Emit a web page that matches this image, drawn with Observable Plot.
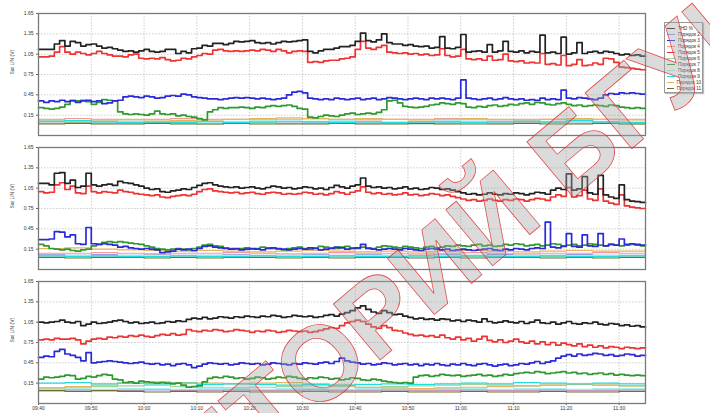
<!DOCTYPE html>
<html><head><meta charset="utf-8">
<script src="https://cdn.jsdelivr.net/npm/d3@7"></script>
<script src="https://cdn.jsdelivr.net/npm/@observablehq/plot@0.6"></script>
<style>
body{margin:0;background:#fff;font-family:"Liberation Sans",Arial,sans-serif;}
#wrap{position:relative;width:710px;height:413px;overflow:hidden;background:#fff;}
#legend{position:absolute;left:664px;top:22px;width:39px;height:71px;border:1px solid #999;background:#fff;box-shadow:1px 1px 1px #bbb;font-size:4.6px;color:#333;box-sizing:border-box;padding:2px 1px 0 2px;}
.row{display:flex;align-items:center;height:6.1px;white-space:nowrap;}
.sw{width:8px;margin-right:3px;}
#wm{position:absolute;left:0;top:0;pointer-events:none;}
</style></head><body><div id="wrap"></div>
<script>
// ---- data ----
const panels = ["A", "B", "C"];
const seriesNames = ["THD %","Порядок 2","Порядок 3","Порядок 4","Порядок 5","Порядок 6","Порядок 7","Порядок 8","Порядок 9","Порядок 10","Порядок 11"];
const seriesColors = ["#222222","#9a9ae8","#2a2ad8","#f29a9a","#ee3333","#9fd49f","#2e9a2e","#aaeeee","#22dddd","#e6b45a","#707030"];
const yTicks = [0.15, 0.45, 0.75, 1.05, 1.35, 1.65];
const xTickLabels = ["09:40","09:50","10:00","10:10","10:20","10:30","10:40","10:50","11:00","11:10","11:20","11:30"];
const yLabel = "Sat LIN (V)";

// panel A, 1-minute samples from 09:40
const p1_thd = [1.12,1.12,1.12,1.20,1.25,1.17,1.24,1.22,1.17,1.19,1.20,1.17,1.14,1.15,1.13,1.11,1.09,1.10,1.08,1.10,1.12,1.09,1.08,1.09,1.12,1.12,1.06,1.09,1.07,1.13,1.14,1.18,1.17,1.21,1.21,1.19,1.21,1.24,1.23,1.24,1.25,1.22,1.21,1.22,1.20,1.22,1.24,1.23,1.24,1.25,1.26,1.09,1.07,1.10,1.12,1.12,1.14,1.16,1.16,1.18,1.24,1.36,1.25,1.23,1.26,1.35,1.22,1.20,1.20,1.18,1.19,1.17,1.16,1.17,1.14,1.15,1.31,1.14,1.13,1.15,1.34,1.08,1.09,1.10,1.08,1.19,1.08,1.10,1.24,1.09,1.08,1.10,1.07,1.09,1.08,1.33,1.07,1.08,1.06,1.30,1.05,1.07,1.22,1.06,1.08,1.09,1.07,1.09,1.08,1.06,1.04,1.05,1.03,1.04,1.02,1.02];
const p1_h5 = [1.01,1.01,1.02,1.08,1.16,1.08,1.05,1.08,1.06,1.04,1.06,1.09,1.06,1.04,1.02,1.02,1.01,1.04,1.05,0.99,0.98,0.99,0.98,1.00,0.97,0.95,0.96,0.99,0.98,1.01,1.03,1.06,1.05,1.11,1.12,1.10,1.09,1.10,1.09,1.10,1.11,1.10,1.12,1.11,1.09,1.12,1.10,1.07,1.09,1.10,1.09,0.93,0.94,0.93,0.95,0.96,0.96,0.98,0.99,1.01,1.12,1.24,1.14,1.12,1.15,1.18,1.08,1.07,1.06,1.07,1.05,1.06,1.04,1.05,1.03,1.04,1.13,1.03,1.01,1.02,1.12,0.98,0.97,0.98,0.96,1.02,0.96,0.97,1.05,0.95,0.94,0.95,0.92,0.93,0.92,1.06,0.90,0.91,0.89,1.03,0.88,0.90,0.97,0.88,0.89,0.92,0.90,0.99,0.98,0.93,0.86,0.85,0.84,0.83,0.82,0.82];
const p1_h3 = [0.36,0.34,0.36,0.35,0.37,0.35,0.36,0.34,0.36,0.37,0.35,0.36,0.32,0.33,0.36,0.37,0.42,0.43,0.42,0.41,0.43,0.42,0.40,0.41,0.43,0.44,0.43,0.46,0.45,0.42,0.41,0.40,0.39,0.39,0.38,0.39,0.40,0.41,0.40,0.41,0.40,0.39,0.40,0.39,0.38,0.39,0.40,0.45,0.49,0.50,0.48,0.40,0.39,0.38,0.39,0.38,0.40,0.39,0.38,0.39,0.40,0.38,0.39,0.40,0.38,0.39,0.41,0.40,0.39,0.38,0.39,0.40,0.39,0.38,0.40,0.39,0.40,0.39,0.38,0.40,0.67,0.40,0.39,0.38,0.39,0.40,0.38,0.39,0.41,0.39,0.38,0.39,0.37,0.38,0.37,0.40,0.38,0.39,0.38,0.52,0.40,0.39,0.41,0.40,0.39,0.38,0.40,0.45,0.47,0.46,0.48,0.47,0.48,0.47,0.46,0.46];
const p1_h7 = [0.26,0.25,0.24,0.25,0.27,0.31,0.37,0.36,0.37,0.35,0.31,0.34,0.38,0.37,0.36,0.20,0.17,0.16,0.17,0.16,0.15,0.17,0.21,0.17,0.16,0.17,0.14,0.15,0.13,0.12,0.10,0.08,0.20,0.23,0.26,0.25,0.26,0.26,0.27,0.26,0.25,0.27,0.26,0.28,0.29,0.28,0.29,0.30,0.28,0.25,0.24,0.12,0.11,0.13,0.15,0.14,0.13,0.15,0.17,0.18,0.16,0.17,0.18,0.17,0.19,0.23,0.36,0.37,0.33,0.28,0.27,0.26,0.27,0.28,0.30,0.31,0.33,0.32,0.31,0.33,0.32,0.27,0.26,0.28,0.27,0.29,0.30,0.28,0.29,0.31,0.30,0.32,0.33,0.31,0.34,0.33,0.31,0.30,0.32,0.33,0.31,0.29,0.30,0.28,0.29,0.30,0.29,0.28,0.30,0.29,0.27,0.26,0.25,0.26,0.25,0.25];
// panel A, 5-minute samples
const p1_h2  = [0.05,0.06,0.05,0.05,0.04,0.05,0.06,0.05,0.04,0.05,0.05,0.06,0.05,0.04,0.05,0.05,0.06,0.05,0.05,0.04,0.05,0.05,0.04,0.05];
const p1_h4  = [0.09,0.10,0.09,0.08,0.09,0.10,0.09,0.09,0.08,0.09,0.10,0.09,0.08,0.09,0.09,0.10,0.09,0.08,0.09,0.09,0.08,0.09,0.09,0.08];
const p1_h6  = [0.03,0.04,0.03,0.03,0.04,0.03,0.02,0.03,0.04,0.03,0.03,0.04,0.03,0.03,0.02,0.03,0.04,0.03,0.03,0.04,0.03,0.03,0.02,0.03];
const p1_h8  = [0.07,0.06,0.07,0.06,0.06,0.07,0.06,0.06,0.07,0.06,0.06,0.07,0.06,0.05,0.06,0.07,0.06,0.06,0.07,0.06,0.05,0.06,0.06,0.06];
const p1_h9  = [0.06,0.07,0.05,0.04,0.05,0.04,0.05,0.04,0.05,0.06,0.05,0.04,0.05,0.04,0.05,0.05,0.04,0.05,0.06,0.05,0.07,0.05,0.04,0.05];
const p1_h10 = [0.08,0.07,0.08,0.09,0.08,0.07,0.08,0.09,0.10,0.11,0.10,0.09,0.10,0.09,0.08,0.09,0.10,0.09,0.08,0.09,0.10,0.09,0.08,0.09];
const p1_h11 = [0.02,0.03,0.02,0.02,0.03,0.02,0.02,0.03,0.02,0.02,0.02,0.03,0.02,0.02,0.03,0.02,0.02,0.02,0.03,0.02,0.02,0.03,0.02,0.02];

// panel B
const p2_thd = [1.12,1.12,1.10,1.27,1.28,1.12,1.17,1.06,1.08,1.27,1.10,1.08,1.10,1.11,1.09,1.15,1.13,1.12,1.10,1.08,1.05,1.03,1.04,1.00,0.99,1.01,1.02,1.04,1.03,1.06,1.09,1.12,1.13,1.10,1.08,1.07,1.06,1.07,1.05,1.06,1.07,1.05,1.04,1.06,1.08,1.07,1.05,1.06,1.04,1.05,1.07,1.06,1.04,1.05,1.03,1.06,1.09,1.07,1.05,1.08,1.10,1.20,1.08,1.06,1.07,1.05,1.06,1.04,1.05,1.07,1.04,1.05,1.03,1.04,1.06,1.05,1.03,1.04,1.02,1.00,0.98,0.96,0.97,0.95,0.96,0.98,0.96,0.95,0.97,0.96,0.98,0.97,0.95,0.97,0.99,0.98,0.96,1.02,1.05,1.03,1.26,1.02,1.04,1.22,0.98,0.96,1.24,0.95,0.92,0.90,1.10,0.88,0.86,0.85,0.84,0.84];
const p2_h5 = [1.00,0.98,0.99,1.10,1.13,1.03,1.08,0.98,0.97,1.08,1.00,0.98,1.00,0.99,0.98,1.02,1.00,0.99,0.97,0.96,0.95,0.94,0.95,0.92,0.91,0.93,0.94,0.95,0.94,0.96,1.00,1.03,1.04,1.01,1.00,0.99,0.98,0.99,0.97,0.98,0.99,0.97,0.96,0.98,0.99,0.98,0.96,0.97,0.96,0.97,0.99,0.98,0.96,0.97,0.95,0.97,1.00,0.98,0.96,0.99,1.01,1.07,0.99,0.97,0.98,0.96,0.97,0.95,0.96,0.98,0.95,0.96,0.94,0.95,0.97,0.96,0.94,0.95,0.93,0.91,0.89,0.87,0.88,0.86,0.87,0.89,0.87,0.86,0.88,0.87,0.89,0.88,0.86,0.88,0.90,0.89,0.87,0.92,0.95,0.93,1.06,0.92,0.94,1.02,0.89,0.87,1.04,0.86,0.83,0.81,0.95,0.79,0.77,0.76,0.75,0.75];
const p2_h3 = [0.29,0.29,0.30,0.41,0.40,0.33,0.36,0.23,0.22,0.47,0.23,0.22,0.23,0.22,0.21,0.18,0.19,0.17,0.16,0.15,0.16,0.15,0.14,0.10,0.11,0.12,0.15,0.14,0.15,0.13,0.16,0.19,0.20,0.18,0.17,0.16,0.15,0.16,0.14,0.15,0.16,0.15,0.14,0.16,0.17,0.16,0.15,0.14,0.15,0.16,0.15,0.17,0.16,0.14,0.15,0.16,0.18,0.17,0.15,0.16,0.17,0.22,0.16,0.15,0.14,0.15,0.16,0.15,0.14,0.16,0.15,0.14,0.13,0.15,0.16,0.15,0.14,0.15,0.13,0.14,0.15,0.14,0.13,0.14,0.15,0.16,0.14,0.13,0.15,0.14,0.16,0.15,0.14,0.16,0.17,0.16,0.55,0.18,0.17,0.19,0.38,0.19,0.18,0.36,0.20,0.19,0.38,0.20,0.22,0.21,0.30,0.22,0.23,0.22,0.21,0.21];
const p2_h7 = [0.22,0.20,0.16,0.15,0.14,0.15,0.13,0.12,0.14,0.15,0.20,0.22,0.25,0.26,0.25,0.26,0.25,0.24,0.23,0.22,0.20,0.18,0.16,0.15,0.14,0.15,0.16,0.15,0.14,0.16,0.18,0.21,0.22,0.20,0.19,0.17,0.16,0.15,0.16,0.17,0.15,0.16,0.18,0.17,0.16,0.15,0.14,0.16,0.17,0.18,0.16,0.15,0.17,0.19,0.18,0.17,0.16,0.18,0.19,0.17,0.16,0.18,0.17,0.16,0.18,0.20,0.19,0.18,0.17,0.19,0.18,0.17,0.16,0.18,0.19,0.17,0.18,0.20,0.19,0.21,0.20,0.19,0.21,0.22,0.20,0.21,0.19,0.20,0.22,0.21,0.23,0.22,0.20,0.21,0.22,0.20,0.21,0.23,0.22,0.20,0.21,0.22,0.20,0.21,0.23,0.22,0.21,0.20,0.22,0.21,0.20,0.21,0.22,0.21,0.20,0.20];
const p2_h2  = [0.07,0.06,0.07,0.06,0.07,0.06,0.06,0.07,0.06,0.06,0.07,0.06,0.07,0.06,0.06,0.07,0.06,0.07,0.06,0.06,0.07,0.06,0.06,0.07];
const p2_h4  = [0.09,0.09,0.10,0.09,0.08,0.09,0.09,0.10,0.09,0.08,0.09,0.10,0.09,0.09,0.08,0.09,0.10,0.09,0.08,0.09,0.09,0.10,0.09,0.09];
const p2_h6  = [0.05,0.04,0.05,0.05,0.04,0.05,0.04,0.05,0.05,0.04,0.05,0.04,0.05,0.05,0.04,0.05,0.04,0.05,0.05,0.04,0.05,0.04,0.05,0.05];
const p2_h8  = [0.06,0.06,0.05,0.06,0.06,0.05,0.06,0.06,0.05,0.06,0.06,0.05,0.06,0.06,0.05,0.06,0.06,0.05,0.06,0.06,0.05,0.06,0.06,0.05];
const p2_h9  = [0.05,0.04,0.05,0.04,0.04,0.05,0.04,0.04,0.05,0.04,0.04,0.05,0.04,0.04,0.05,0.04,0.05,0.04,0.04,0.05,0.04,0.04,0.05,0.04];
const p2_h10 = [0.16,0.17,0.15,0.14,0.13,0.12,0.13,0.12,0.11,0.12,0.13,0.12,0.11,0.12,0.11,0.12,0.13,0.12,0.11,0.12,0.13,0.12,0.12,0.11];
const p2_h11 = [0.03,0.02,0.03,0.03,0.02,0.03,0.02,0.03,0.03,0.02,0.03,0.02,0.03,0.03,0.02,0.03,0.02,0.03,0.03,0.02,0.03,0.02,0.03,0.03];

// panel C
const p3_thd = [1.05,1.04,1.05,1.06,1.08,1.05,1.04,1.06,1.00,1.02,1.05,1.03,1.04,1.05,1.07,1.08,1.06,1.04,1.05,1.03,1.04,1.05,1.03,1.04,1.06,1.05,1.07,1.06,1.09,1.11,1.10,1.12,1.10,1.11,1.13,1.12,1.11,1.13,1.12,1.14,1.13,1.12,1.14,1.13,1.15,1.14,1.12,1.13,1.15,1.14,1.13,1.14,1.12,1.13,1.15,1.16,1.14,1.17,1.19,1.22,1.26,1.29,1.24,1.20,1.18,1.22,1.19,1.16,1.17,1.14,1.12,1.10,1.11,1.09,1.10,1.08,1.10,1.09,1.07,1.08,1.06,1.08,1.07,1.05,1.10,1.06,1.04,1.05,1.07,1.05,1.04,1.06,1.03,1.05,1.08,1.04,1.03,1.05,1.02,1.04,1.06,1.03,1.02,1.04,1.03,1.05,1.02,1.01,1.03,1.02,1.00,1.01,0.99,1.00,0.98,0.98];
const p3_h5 = [0.79,0.80,0.79,0.81,0.80,0.80,0.81,0.79,0.73,0.77,0.80,0.81,0.80,0.83,0.82,0.84,0.83,0.85,0.84,0.86,0.84,0.83,0.85,0.87,0.86,0.88,0.86,0.87,0.94,0.92,0.91,0.93,0.92,0.94,0.93,0.91,0.92,0.94,0.93,0.92,0.90,0.92,0.91,0.93,0.92,0.90,0.91,0.93,0.92,0.91,0.92,0.90,0.91,0.93,0.95,0.97,0.96,1.00,1.04,1.06,1.08,1.06,1.02,0.98,0.96,1.00,0.97,0.93,0.92,0.89,0.87,0.85,0.86,0.84,0.85,0.83,0.86,0.82,0.80,0.83,0.79,0.81,0.77,0.80,0.84,0.78,0.76,0.79,0.75,0.77,0.80,0.76,0.74,0.77,0.73,0.76,0.72,0.75,0.71,0.74,0.72,0.70,0.73,0.69,0.71,0.68,0.70,0.67,0.69,0.68,0.66,0.68,0.67,0.66,0.67,0.67];
const p3_h3 = [0.53,0.55,0.54,0.62,0.65,0.58,0.56,0.53,0.48,0.60,0.45,0.46,0.47,0.48,0.47,0.46,0.45,0.44,0.45,0.46,0.44,0.43,0.44,0.42,0.43,0.41,0.43,0.44,0.42,0.38,0.40,0.43,0.45,0.44,0.43,0.44,0.42,0.43,0.45,0.44,0.43,0.44,0.42,0.43,0.45,0.44,0.43,0.42,0.44,0.43,0.45,0.44,0.43,0.45,0.46,0.44,0.47,0.52,0.48,0.46,0.45,0.43,0.44,0.42,0.43,0.45,0.44,0.42,0.43,0.44,0.42,0.43,0.41,0.43,0.42,0.44,0.42,0.41,0.43,0.42,0.44,0.42,0.41,0.43,0.44,0.42,0.40,0.42,0.43,0.41,0.42,0.44,0.43,0.45,0.47,0.44,0.46,0.48,0.52,0.55,0.57,0.55,0.58,0.56,0.57,0.59,0.58,0.56,0.57,0.55,0.56,0.58,0.57,0.55,0.56,0.56];
const p3_h7 = [0.21,0.24,0.23,0.24,0.25,0.27,0.26,0.21,0.22,0.25,0.24,0.26,0.28,0.27,0.21,0.20,0.16,0.17,0.15,0.18,0.17,0.16,0.15,0.16,0.15,0.14,0.15,0.12,0.09,0.10,0.11,0.17,0.22,0.24,0.23,0.25,0.24,0.22,0.23,0.21,0.22,0.24,0.23,0.21,0.22,0.24,0.23,0.25,0.24,0.22,0.21,0.23,0.22,0.24,0.23,0.21,0.22,0.20,0.21,0.23,0.22,0.20,0.19,0.21,0.20,0.18,0.17,0.16,0.15,0.16,0.15,0.24,0.26,0.27,0.25,0.26,0.28,0.27,0.26,0.27,0.25,0.26,0.27,0.28,0.26,0.27,0.25,0.26,0.28,0.27,0.29,0.30,0.31,0.30,0.32,0.31,0.29,0.30,0.31,0.32,0.30,0.31,0.29,0.30,0.28,0.29,0.30,0.28,0.29,0.27,0.28,0.27,0.26,0.27,0.26,0.26];
const p3_h2  = [0.04,0.05,0.04,0.04,0.05,0.04,0.04,0.05,0.04,0.04,0.05,0.04,0.04,0.05,0.04,0.04,0.05,0.04,0.04,0.05,0.04,0.04,0.05,0.04];
const p3_h4  = [0.05,0.06,0.05,0.05,0.06,0.05,0.05,0.06,0.05,0.05,0.06,0.05,0.05,0.06,0.05,0.05,0.06,0.05,0.05,0.06,0.05,0.05,0.06,0.05];
const p3_h6  = [0.08,0.09,0.10,0.11,0.12,0.10,0.09,0.08,0.09,0.10,0.11,0.10,0.09,0.10,0.11,0.12,0.13,0.12,0.11,0.12,0.13,0.12,0.11,0.12];
const p3_h8  = [0.07,0.07,0.06,0.07,0.07,0.06,0.07,0.07,0.06,0.07,0.07,0.06,0.07,0.07,0.06,0.07,0.07,0.06,0.07,0.07,0.06,0.07,0.07,0.06];
const p3_h9  = [0.15,0.16,0.14,0.15,0.14,0.15,0.13,0.14,0.13,0.12,0.13,0.12,0.13,0.14,0.13,0.14,0.15,0.14,0.16,0.15,0.14,0.15,0.14,0.14];
const p3_h10 = [0.08,0.10,0.12,0.15,0.17,0.16,0.15,0.14,0.15,0.16,0.14,0.12,0.09,0.08,0.07,0.08,0.09,0.10,0.11,0.12,0.13,0.12,0.11,0.12];
const p3_h11 = [0.04,0.03,0.04,0.03,0.02,0.03,0.02,0.03,0.02,0.02,0.03,0.02,0.02,0.03,0.02,0.02,0.03,0.02,0.02,0.03,0.02,0.02,0.03,0.02];

// ---- build tables ----
const t = (h, m) => new Date(Date.UTC(2000, 0, 1, h, m));
const minor = [], major = [];
function add(target, panel, series, arr, step) {
  arr.forEach((v, i) => target.push({panel, series, t: t(9, 40 + i * step), v}));
}
const minorSets = {
  A: [p1_h2, p1_h4, p1_h6, p1_h8, p1_h10, p1_h11, p1_h9],
  B: [p2_h2, p2_h4, p2_h6, p2_h8, p2_h10, p2_h11, p2_h9],
  C: [p3_h2, p3_h4, p3_h6, p3_h8, p3_h10, p3_h11, p3_h9]
};
const minorNames = ["Порядок 2","Порядок 4","Порядок 6","Порядок 8","Порядок 10","Порядок 11","Порядок 9"];
const majorSets = {
  A: [p1_h7, p1_h3, p1_h5, p1_thd],
  B: [p2_h7, p2_h3, p2_h5, p2_thd],
  C: [p3_h7, p3_h3, p3_h5, p3_thd]
};
const majorNames = ["Порядок 7","Порядок 3","Порядок 5","THD %"];
for (const p of panels) {
  minorSets[p].forEach((arr, k) => add(minor, p, minorNames[k], arr, 5));
  majorSets[p].forEach((arr, k) => add(major, p, majorNames[k], arr, 1));
}
const xTicks = xTickLabels.map(s => t(+s.slice(0, 2), +s.slice(3)));

const chart = Plot.plot({
  width: 710, height: 413,
  marginLeft: 38, marginRight: 65, marginTop: 12, marginBottom: 9,
  style: {fontFamily: "Liberation Sans, Arial, sans-serif", fontSize: "5px", background: "white", color: "#333"},
  x: {type: "utc", domain: [t(9, 40), t(11, 35)]},
  y: {domain: [-0.15, 1.65]},
  fy: {domain: panels, paddingInner: 0.09, paddingOuter: 0, axis: null},
  color: {domain: seriesNames, range: seriesColors},
  marks: [
    Plot.gridX(xTicks, {stroke: "#b8b8b8", strokeOpacity: 1, strokeDasharray: "1.5,1.5", strokeWidth: 0.7}),
    Plot.gridY(yTicks, {stroke: "#b8b8b8", strokeOpacity: 1, strokeDasharray: "1.5,1.5", strokeWidth: 0.7}),
    Plot.axisY(yTicks, {tickFormat: d3.format(".2f"), tickSize: 2, tickPadding: 3, fontSize: 5, label: null, stroke: "#666"}),
    Plot.axisX(xTicks, {tickFormat: d3.utcFormat("%H:%M"), tickSize: 2, tickPadding: 1, fontSize: 5, label: null, facetAnchor: "bottom", stroke: "#666"}),
    Plot.text(panels, {fy: d => d, frameAnchor: "left", dx: -26, rotate: -90, text: () => yLabel, fontSize: 5, fill: "#444"}),
    Plot.line(minor, {x: "t", y: "v", z: "series", stroke: "series", fy: "panel", curve: "step-after", strokeWidth: 1.2}),
    Plot.line(major, {x: "t", y: "v", z: "series", stroke: "series", fy: "panel", curve: "step-after", strokeWidth: 1.7}),
    Plot.frame({stroke: "#7a7a7a", strokeWidth: 1.3})
  ]
});
const wrap = document.getElementById("wrap");
wrap.appendChild(chart);

// legend
const lg = document.createElement("div");
lg.id = "legend";
seriesNames.forEach((n, i) => {
  const r = document.createElement("div"); r.className = "row";
  const sw = document.createElement("div"); sw.className = "sw";
  sw.style.borderTop = (i === 0 || i === 2 || i === 4 || i === 6 || i === 8 ? 1.4 : 1) + "px solid " + seriesColors[i];
  const tx = document.createElement("span"); tx.textContent = n;
  r.appendChild(sw); r.appendChild(tx); lg.appendChild(r);
});
wrap.appendChild(lg);

// watermark
const ns = "http://www.w3.org/2000/svg";
const wm = document.createElementNS(ns, "svg");
wm.setAttribute("id", "wm"); wm.setAttribute("width", 710); wm.setAttribute("height", 413);
const wt = document.createElementNS(ns, "text");
wt.setAttribute("transform", "translate(-75,742) rotate(-40)");
wt.setAttribute("font-family", "Liberation Sans, Arial, sans-serif");
wt.setAttribute("font-weight", "bold");
wt.setAttribute("font-size", 106);
wt.setAttribute("fill", "rgba(165,165,165,0.4)");
wt.setAttribute("stroke", "rgba(225,40,40,0.8)");
wt.setAttribute("stroke-width", 0.8);
wt.textContent = "РЕПОЗИТОРИЙ БГУИР";
wm.appendChild(wt);
wrap.appendChild(wm);
</script></body></html>
